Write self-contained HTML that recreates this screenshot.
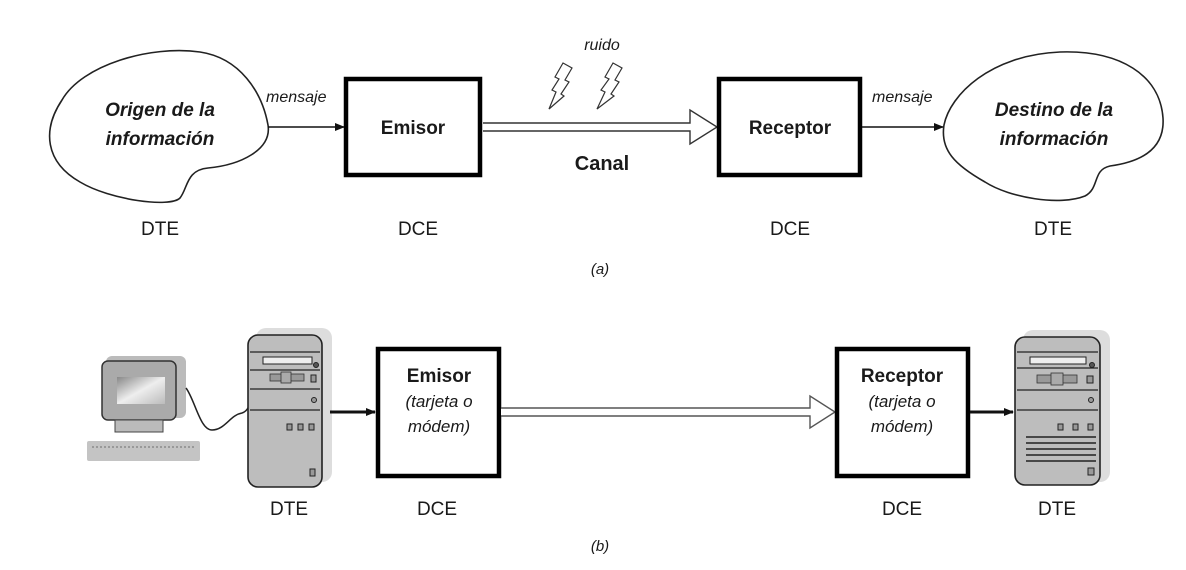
<!DOCTYPE html>
<html><head><meta charset="utf-8"><style>
html,body{margin:0;padding:0;background:#fff;width:1186px;height:570px;overflow:hidden}
text{font-family:"Liberation Sans",sans-serif;fill:#1a1a1a}
</style></head><body>
<svg width="1186" height="570" viewBox="0 0 1186 570" xmlns="http://www.w3.org/2000/svg">
<defs>
<marker id="ah" markerWidth="10" markerHeight="10" refX="9" refY="5" orient="auto" markerUnits="userSpaceOnUse"><path d="M0,1 L10,5 L0,9 Z" fill="#111"/></marker>
<linearGradient id="scr" x1="0" y1="0" x2="1" y2="1"><stop offset="0" stop-color="#888"/><stop offset="0.5" stop-color="#eee"/><stop offset="1" stop-color="#bbb"/></linearGradient>
</defs>
<!-- (a) -->
<path d="M62,100 C82,65 150,45 200,52 C240,58 262,92 268,125 C272,150 240,165 208,168 C186,170 188,188 180,198 C170,208 110,200 80,182 C45,162 42,130 62,100 Z" fill="#fff" stroke="#222" stroke-width="1.6"/>
<text x="160" y="116" font-size="19" font-weight="bold" font-style="italic" text-anchor="middle">Origen de la</text>
<text x="160" y="145" font-size="19" font-weight="bold" font-style="italic" text-anchor="middle">información</text>
<text x="266" y="102" font-size="16" font-style="italic">mensaje</text>
<line x1="268" y1="127" x2="344" y2="127" stroke="#111" stroke-width="1.6" marker-end="url(#ah)"/>
<rect x="346" y="79" width="134" height="96" fill="#fff" stroke="#000" stroke-width="4.5"/>
<text x="413" y="134" font-size="19" font-weight="bold" text-anchor="middle">Emisor</text>
<path d="M483,123 L690,123 L690,110 L717,127 L690,144 L690,131 L483,131" fill="#fff" stroke="#333" stroke-width="1.4"/>
<text x="602" y="50" font-size="16" font-style="italic" text-anchor="middle">ruido</text>
<path d="M563,63 L572,68 L565,80 L569,82 L561,94 L564,96 L549,109 L556,92 L552,90 L559,79 L555,77 Z" fill="#fff" stroke="#333" stroke-width="1.2"/>
<path d="M613,63 L622,68 L615,80 L619,82 L611,94 L614,96 L597,109 L605,92 L601,90 L609,79 L605,77 Z" fill="#fff" stroke="#333" stroke-width="1.2"/>
<text x="602" y="170" font-size="20" font-weight="bold" text-anchor="middle">Canal</text>
<rect x="719" y="79" width="141" height="96" fill="#fff" stroke="#000" stroke-width="4.5"/>
<text x="790" y="134" font-size="19" font-weight="bold" text-anchor="middle">Receptor</text>
<text x="872" y="102" font-size="16" font-style="italic">mensaje</text>
<line x1="862" y1="127" x2="943" y2="127" stroke="#111" stroke-width="1.6" marker-end="url(#ah)"/>
<path d="M944,125 C950,95 990,55 1060,52 C1120,50 1160,75 1163,118 C1165,150 1140,162 1110,166 C1092,170 1100,188 1085,196 C1060,206 1010,198 985,182 C955,165 940,150 944,125 Z" fill="#fff" stroke="#222" stroke-width="1.6"/>
<text x="1054" y="116" font-size="19" font-weight="bold" font-style="italic" text-anchor="middle">Destino de la</text>
<text x="1054" y="145" font-size="19" font-weight="bold" font-style="italic" text-anchor="middle">información</text>
<text x="160" y="235" font-size="19" text-anchor="middle">DTE</text>
<text x="418" y="235" font-size="19" text-anchor="middle">DCE</text>
<text x="790" y="235" font-size="19" text-anchor="middle">DCE</text>
<text x="1053" y="235" font-size="19" text-anchor="middle">DTE</text>
<text x="600" y="274" font-size="15" font-style="italic" text-anchor="middle">(a)</text>
<!-- (b) -->
<rect x="106" y="356" width="80" height="62" rx="6" fill="#bbb"/>
<rect x="102" y="361" width="74" height="59" rx="6" fill="#aaa" stroke="#333" stroke-width="1.5"/>
<rect x="117" y="377" width="48" height="27" fill="url(#scr)"/>
<rect x="115" y="420" width="48" height="12" fill="#bbb" stroke="#444" stroke-width="1"/>
<rect x="87" y="441" width="113" height="20" rx="2" fill="#c4c4c4"/>
<path d="M92,447 H195" stroke="#999" stroke-width="2" stroke-dasharray="2 2"/>
<path d="M186,388 C195,400 200,430 212,430 C225,430 230,415 242,413 C248,411 250,405 250,398" fill="none" stroke="#222" stroke-width="1.5"/>
<rect x="256" y="328" width="76" height="154" rx="10" fill="#ddd"/>
<rect x="248" y="335" width="74" height="152" rx="10" fill="#bdbdbd" stroke="#222" stroke-width="1.6"/>
<line x1="250" y1="352" x2="320" y2="352" stroke="#222" stroke-width="1.2"/>
<line x1="250" y1="370" x2="320" y2="370" stroke="#222" stroke-width="1.2"/>
<line x1="250" y1="389" x2="320" y2="389" stroke="#222" stroke-width="1.2"/>
<line x1="250" y1="410" x2="320" y2="410" stroke="#222" stroke-width="1.2"/>
<rect x="263" y="357" width="49" height="7" fill="#eee" stroke="#222" stroke-width="1"/>
<circle cx="316" cy="365" r="2.5" fill="#555" stroke="#222"/>
<rect x="270" y="374" width="34" height="7" fill="#999" stroke="#333" stroke-width="0.8"/>
<rect x="281" y="372" width="10" height="11" fill="#aaa" stroke="#333" stroke-width="0.8"/>
<rect x="311" y="375" width="5" height="7" fill="#999" stroke="#222"/>
<circle cx="314" cy="400" r="2.5" fill="#999" stroke="#222"/>
<rect x="287" y="424" width="5" height="6" fill="#999" stroke="#222"/>
<rect x="298" y="424" width="5" height="6" fill="#999" stroke="#222"/>
<rect x="309" y="424" width="5" height="6" fill="#999" stroke="#222"/>
<rect x="310" y="469" width="5" height="7" fill="#999" stroke="#222"/>
<line x1="330" y1="412" x2="375" y2="412" stroke="#111" stroke-width="3" marker-end="url(#ah)"/>
<rect x="378" y="349" width="121" height="127" fill="#fff" stroke="#000" stroke-width="4.5"/>
<text x="439" y="382" font-size="19" font-weight="bold" text-anchor="middle">Emisor</text>
<text x="439" y="407" font-size="17" font-style="italic" text-anchor="middle" fill="#223">(tarjeta o</text>
<text x="439" y="432" font-size="17" font-style="italic" text-anchor="middle" fill="#223">módem)</text>
<path d="M501,408 L810,408 L810,396 L835,412 L810,428 L810,416 L501,416" fill="#fff" stroke="#555" stroke-width="1.4"/>
<rect x="837" y="349" width="131" height="127" fill="#fff" stroke="#000" stroke-width="4.5"/>
<text x="902" y="382" font-size="19" font-weight="bold" text-anchor="middle">Receptor</text>
<text x="902" y="407" font-size="17" font-style="italic" text-anchor="middle" fill="#223">(tarjeta o</text>
<text x="902" y="432" font-size="17" font-style="italic" text-anchor="middle" fill="#223">módem)</text>
<line x1="970" y1="412" x2="1013" y2="412" stroke="#111" stroke-width="3" marker-end="url(#ah)"/>
<rect x="1023" y="330" width="87" height="152" rx="10" fill="#ddd"/>
<rect x="1015" y="337" width="85" height="148" rx="10" fill="#bdbdbd" stroke="#222" stroke-width="1.6"/>
<line x1="1017" y1="352" x2="1098" y2="352" stroke="#222" stroke-width="1.2"/>
<line x1="1017" y1="368" x2="1098" y2="368" stroke="#222" stroke-width="1.2"/>
<line x1="1017" y1="390" x2="1098" y2="390" stroke="#222" stroke-width="1.2"/>
<line x1="1017" y1="410" x2="1098" y2="410" stroke="#222" stroke-width="1.2"/>
<rect x="1030" y="357" width="56" height="7" fill="#eee" stroke="#222" stroke-width="1"/>
<circle cx="1092" cy="365" r="2.5" fill="#555" stroke="#222"/>
<rect x="1037" y="375" width="40" height="8" fill="#999" stroke="#333" stroke-width="0.8"/>
<rect x="1051" y="373" width="12" height="12" fill="#aaa" stroke="#333" stroke-width="0.8"/>
<rect x="1087" y="376" width="6" height="7" fill="#999" stroke="#222"/>
<circle cx="1091" cy="400" r="2.5" fill="#999" stroke="#222"/>
<rect x="1058" y="424" width="5" height="6" fill="#999" stroke="#222"/>
<rect x="1073" y="424" width="5" height="6" fill="#999" stroke="#222"/>
<rect x="1088" y="424" width="5" height="6" fill="#999" stroke="#222"/>
<g stroke="#222" stroke-width="1.5"><line x1="1026" y1="437" x2="1096" y2="437"/><line x1="1026" y1="443" x2="1096" y2="443"/><line x1="1026" y1="449" x2="1096" y2="449"/><line x1="1026" y1="455" x2="1096" y2="455"/><line x1="1026" y1="461" x2="1096" y2="461"/></g>
<rect x="1088" y="468" width="6" height="7" fill="#999" stroke="#222"/>
<text x="289" y="515" font-size="19" text-anchor="middle">DTE</text>
<text x="437" y="515" font-size="19" text-anchor="middle">DCE</text>
<text x="902" y="515" font-size="19" text-anchor="middle">DCE</text>
<text x="1057" y="515" font-size="19" text-anchor="middle">DTE</text>
<text x="600" y="551" font-size="15" font-style="italic" text-anchor="middle">(b)</text>
</svg>
</body></html>
